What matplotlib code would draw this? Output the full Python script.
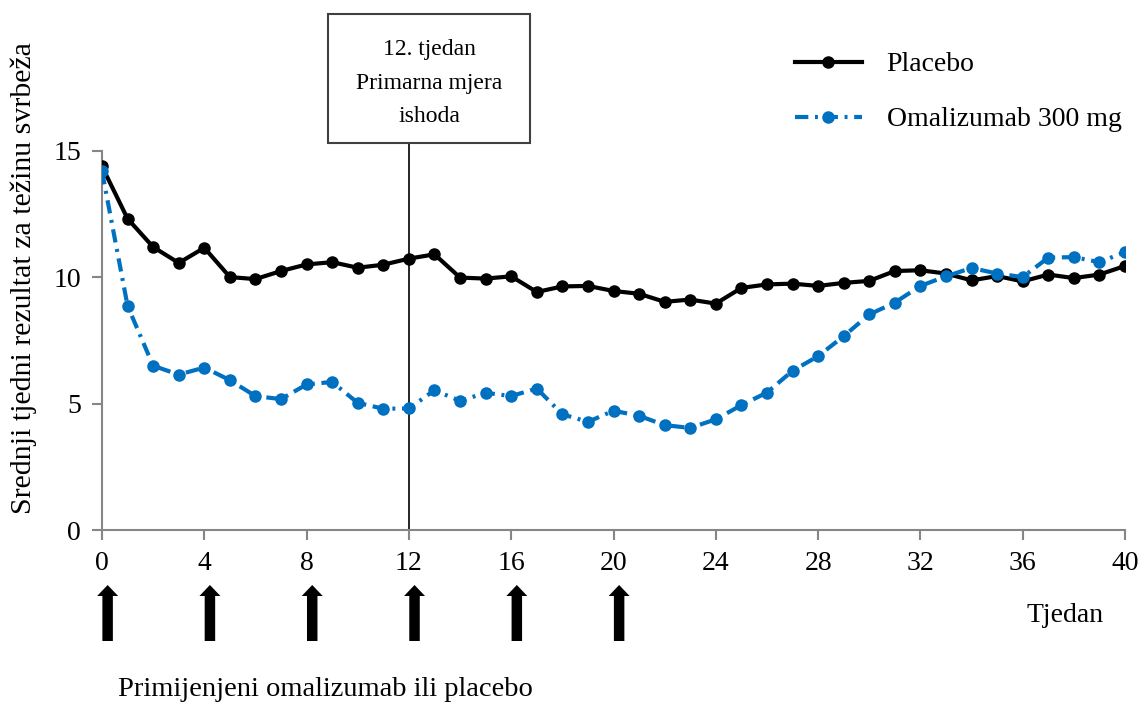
import numpy as np
import matplotlib
matplotlib.use('Agg')
import matplotlib.pyplot as plt
import matplotlib.transforms as mtransforms
from matplotlib.patches import Rectangle, FancyArrow

plt.rcParams['font.family'] = ['Liberation Serif', 'DejaVu Serif']

weeks = np.arange(0, 41)
placebo = [14.39, 12.32, 11.20, 10.57, 11.17, 10.01, 9.93, 10.25, 10.51, 10.60,
           10.38, 10.50, 10.74, 10.91, 9.99, 9.95, 10.04, 9.42, 9.64, 9.66,
           9.46, 9.35, 9.03, 9.12, 8.96, 9.58, 9.72, 9.75, 9.66, 9.78,
           9.86, 10.25, 10.28, 10.15, 9.88, 10.05, 9.84, 10.11, 9.97, 10.11,
           10.45]
omalizumab = [14.20, 8.87, 6.50, 6.15, 6.43, 5.93, 5.30, 5.18, 5.76, 5.86,
              5.03, 4.80, 4.81, 5.53, 5.11, 5.43, 5.30, 5.60, 4.58, 4.28,
              4.72, 4.52, 4.15, 4.04, 4.38, 4.94, 5.44, 6.30, 6.88, 7.67,
              8.53, 9.00, 9.66, 10.04, 10.37, 10.15, 10.01, 10.78, 10.80, 10.60,
              11.00]
dose_weeks = [0, 4, 8, 12, 16, 20]
primary_week = 12
x_ticks = np.arange(0, 41, 4)
y_ticks = [0, 5, 10, 15]

blue = '#0070C0'
grey = '#868686'
W, H = 1140, 706

fig = plt.figure(figsize=(11.4, 7.06), dpi=100)
ax = fig.add_axes([102 / W, 176 / H, 1023 / W, 379 / H])

ax.plot(weeks, placebo, color='black', lw=3, marker='o', ms=8,
        label='Placebo', zorder=3)
ax.plot(weeks, omalizumab, color=blue, lw=3, marker='o', ms=8,
        dashes=(3.2, 1.6, 0.7, 1.6), label='Omalizumab 300 mg', zorder=4)

ax.set_xlim(0, 40)
ax.set_ylim(0, 15)
ax.set_xticks(x_ticks)
ax.set_yticks(y_ticks)
ax.tick_params(labelsize=20, length=7, width=1.5, color=grey, pad=8)
for s in ['top', 'right']:
    ax.spines[s].set_visible(False)
for s in ['left', 'bottom']:
    ax.spines[s].set_color(grey)
    ax.spines[s].set_linewidth(1.5)

fig.text(24 / W, 1 - 278 / H, 'Srednji tjedni rezultat za težinu svrbeža',
         rotation=90, ha='center', va='center', fontsize=21.5)

# week 12 marker line running up into the callout box
ax.plot([primary_week, primary_week], [0, 15.3], color='black', lw=1.2,
        clip_on=False, zorder=2)
fig.patches.append(Rectangle((328 / W, 1 - 143 / H), 202 / W, 129 / H,
                             transform=fig.transFigure, fill=False,
                             edgecolor='#404040', lw=1.5))
fig.text(429 / W, 1 - 83 / H, '12. tjedan\nPrimarna mjera\nishoda',
         ha='center', va='center', fontsize=17, linespacing=1.8)

ax.legend(loc='upper left', bbox_to_anchor=(795 / W, 1 - 52 / H),
          bbox_transform=fig.transFigure, frameon=False, fontsize=20,
          handlelength=2.4, labelspacing=1.06, handletextpad=0.9,
          borderpad=0, borderaxespad=0)

# dosing arrows under the x axis (x in weeks, y in figure fraction)
arrow_tr = mtransforms.blended_transform_factory(ax.transData, fig.transFigure)
for w in dose_weeks:
    fig.patches.append(FancyArrow(w + 0.22, 1 - 641 / H, 0, 56 / H,
                                  width=0.41, head_width=0.82,
                                  head_length=11 / H,
                                  length_includes_head=True,
                                  transform=arrow_tr, color='black', lw=0))

fig.text(1065 / W, 1 - 615 / H, 'Tjedan', ha='center', va='center',
         fontsize=20)
fig.text(118 / W, 1 - 690 / H, 'Primijenjeni omalizumab ili placebo',
         ha='left', va='center', fontsize=20.5)

fig.savefig('out.png', dpi=100)
